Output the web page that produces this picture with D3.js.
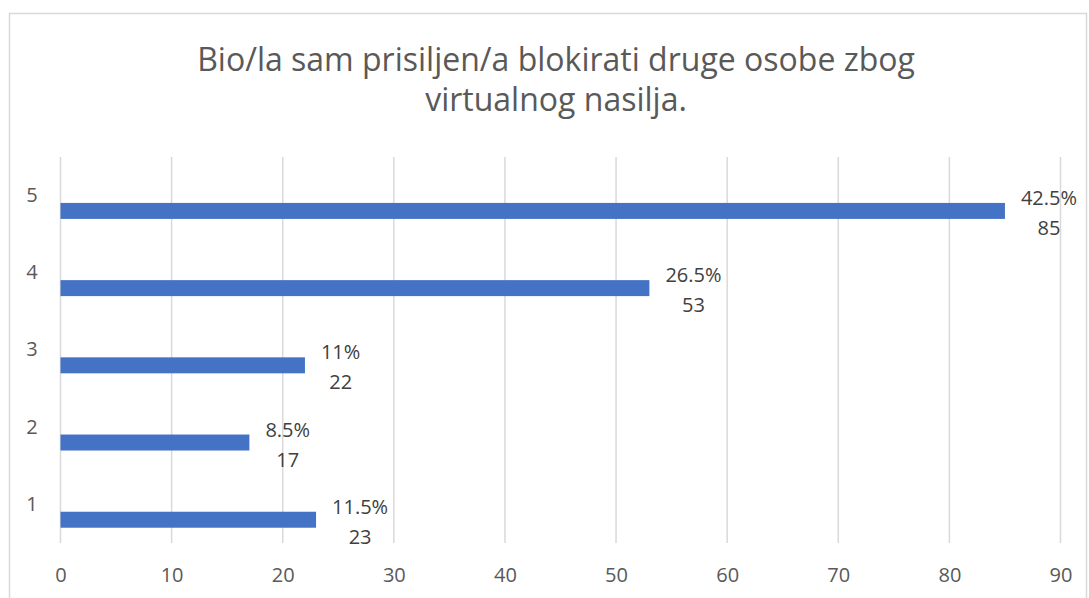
<!DOCTYPE html>
<html>
<head>
<meta charset="utf-8">
<script src="https://cdn.jsdelivr.net/npm/d3@7"></script>
<style>
  body { margin: 0; background: #fff; }
  svg { font-family: "Open Sans", "Noto Sans", sans-serif; }
</style>
</head>
<body>
<script>
// chart data
var categories = ['1', '2', '3', '4', '5'];
var counts = [23, 17, 22, 53, 85];
var percents = ['11.5%', '8.5%', '11%', '26.5%', '42.5%'];
var xTicks = [0, 10, 20, 30, 40, 50, 60, 70, 80, 90];
var titleLines = ['Bio/la sam prisiljen/a blokirati druge osobe zbog', 'virtualnog nasilja.'];

var svgWidth = 1089, svgHeight = 598;
var margin = {top: 157, right: 28, bottom: 56, left: 60.5};
var w = 1060.5 - margin.left;
var h = 543 - margin.top;

var svg = d3.select('body').append('svg')
    .attr('width', svgWidth)
    .attr('height', svgHeight);

// outer chart border
svg.append('rect')
    .attr('x', 9.5).attr('y', 13.5)
    .attr('width', 1077).attr('height', 620)
    .attr('fill', 'none')
    .attr('stroke', '#d9d9d9')
    .attr('stroke-width', 1.5);

// title
svg.append('text')
    .attr('text-anchor', 'middle')
    .attr('fill', '#595959')
    .attr('font-size', '32px')
    .selectAll('tspan')
    .data(titleLines)
    .enter().append('tspan')
    .attr('x', 556)
    .attr('y', function(d, i) { return 71 + i * 40; })
    .text(function(d) { return d; });

var g = svg.append('g').attr('transform', 'translate(' + margin.left + ',' + margin.top + ')');

var xScale = d3.scaleLinear().domain([0, 90]).range([0, w]);
var yScale = d3.scaleBand().domain(categories.slice().reverse()).range([0, h]);

// gridlines
g.selectAll('.grid')
    .data(xTicks)
    .enter().append('line')
    .attr('x1', function(d) { return xScale(d); })
    .attr('x2', function(d) { return xScale(d); })
    .attr('y1', 0).attr('y2', h)
    .attr('stroke', '#d9d9d9')
    .attr('stroke-width', 1.5);

// x axis labels
var bottomAxis = d3.axisBottom(xScale).tickValues(xTicks).tickSize(0);
var xAxis = g.append('g').attr('transform', 'translate(0,' + h + ')').call(bottomAxis);
xAxis.select('.domain').remove();
xAxis.selectAll('text')
    .attr('y', 39)
    .attr('dy', 0)
    .attr('fill', '#595959')
    .attr('font-size', '20px')
    .attr('font-family', '"Open Sans", sans-serif');

// y axis labels
var leftAxis = d3.axisLeft(yScale).tickSize(0).tickPadding(0);
var yAxis = g.append('g').call(leftAxis);
yAxis.select('.domain').remove();
yAxis.selectAll('text')
    .attr('text-anchor', 'middle')
    .attr('x', -28.5)
    .attr('fill', '#595959')
    .attr('font-size', '20px')
    .attr('font-family', '"Open Sans", sans-serif');

// bars
var barTop = yScale.bandwidth() * 0.595;
var barH = yScale.bandwidth() * 0.207;

g.selectAll('.bar')
    .data(categories)
    .enter().append('rect')
    .attr('x', xScale(0))
    .attr('y', function(d) { return yScale(d) + barTop; })
    .attr('width', function(d, i) { return xScale(counts[i]) - xScale(0); })
    .attr('height', barH)
    .attr('fill', '#4472c4');

// data labels
var labels = g.selectAll('.lbl')
    .data(categories)
    .enter().append('text')
    .attr('text-anchor', 'middle')
    .attr('fill', '#404040')
    .attr('font-size', '20px');

labels.append('tspan').attr('class', 'pct').text(function(d, i) { return percents[i]; });
labels.append('tspan').attr('class', 'cnt').text(function(d, i) { return counts[i]; });

labels.each(function(d, i) {
    var t = d3.select(this);
    var pw = t.select('.pct').node().getComputedTextLength();
    var cw = t.select('.cnt').node().getComputedTextLength();
    var cx = xScale(counts[i]) + 16 + Math.max(pw, cw) / 2;
    var cy = yScale(d) + barTop + barH / 2;
    t.select('.pct').attr('x', cx).attr('y', cy - 6);
    t.select('.cnt').attr('x', cx).attr('y', cy + 24);
});
</script>
</body>
</html>
